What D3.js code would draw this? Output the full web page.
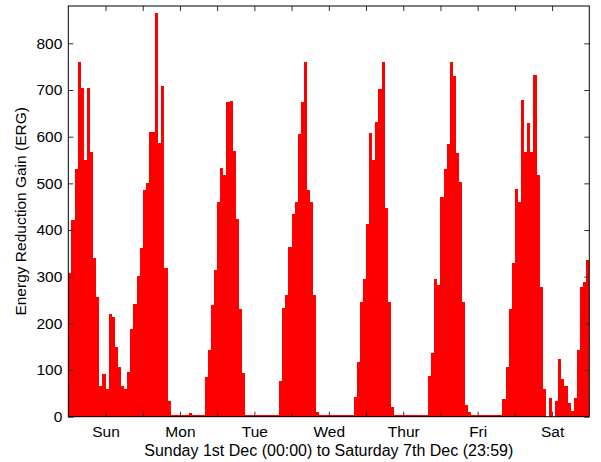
<!DOCTYPE html>
<html>
<head>
<meta charset="utf-8">
<script src="https://cdn.jsdelivr.net/npm/d3@7"></script>
<style>
  body { margin: 0; background: #fff; }
  text { font-family: "Liberation Sans", Arial, Helvetica, sans-serif; }
</style>
</head>
<body>
<div id="chart"></div>
<script>
// hourly ERG values, one array per day (00:00 .. 23:00)
const sun = [307, 421, 531, 761, 705, 549, 705, 568, 339, 256, 65, 91, 59, 219, 214, 150, 106, 65, 59, 96, 188, 241, 301, 361];
const mon = [486, 500, 609, 609, 864, 587, 708, 318, 34, 3, 3, 3, 3, 3, 3, 7, 3, 3, 3, 4, 84, 143, 239, 314];
const tue = [459, 532, 518, 674, 676, 569, 424, 231, 93, 3, 3, 3, 3, 3, 3, 3, 3, 3, 3, 3, 76, 232, 261, 363];
const wed = [434, 459, 606, 675, 759, 486, 459, 261, 9, 3, 3, 3, 3, 3, 3, 3, 3, 3, 3, 3, 43, 118, 245, 294];
const thu = [413, 607, 549, 631, 702, 759, 448, 246, 21, 3, 3, 3, 3, 3, 3, 3, 3, 3, 3, 3, 88, 136, 294, 282];
const fri = [471, 531, 584, 761, 731, 566, 502, 245, 24, 9, 3, 3, 3, 3, 3, 3, 3, 3, 3, 3, 38, 106, 230, 330];
const sat = [487, 461, 679, 568, 630, 568, 732, 518, 277, 59, 0, 41, 0, 34, 124, 80, 66, 30, 13, 41, 143, 277, 289, 336];

const dayLabels = ["Sun", "Mon", "Tue", "Wed", "Thur", "Fri", "Sat"];
const yTicks = [0, 100, 200, 300, 400, 500, 600, 700, 800];

const values = [].concat(sun, mon, tue, wed, thu, fri, sat);

const W = 601, H = 462;
const mLeft = 68.3, mRight = 589.3, mTop = 6, mBottom = 416.7;

const svg = d3.select("#chart").append("svg")
  .attr("width", W)
  .attr("height", H);

const x = d3.scaleLinear().domain([0, values.length]).range([mLeft, mRight]);
const y = d3.scaleLinear().domain([0, 880]).range([mBottom, mTop]);

// bars, drawn edge to edge
svg.append("g")
  .attr("shape-rendering", "crispEdges")
  .selectAll("rect")
  .data(values)
  .enter()
  .append("rect")
  .attr("x", (d, i) => x(i))
  .attr("width", (d, i) => x(i + 1) - x(i))
  .attr("y", d => y(d))
  .attr("height", d => y(0) - y(d))
  .attr("fill", "#ff0000");

const hourTicks = d3.range(12, 168, 12);

svg.append("g")
  .attr("transform", "translate(0," + mBottom + ")")
  .call(d3.axisBottom(x)
    .tickValues(hourTicks)
    .tickSizeInner(-5)
    .tickSizeOuter(0)
    .tickPadding(9)
    .tickFormat(d => d % 24 === 12 ? dayLabels[(d - 12) / 24] : ""));

svg.append("g")
  .attr("transform", "translate(0," + mTop + ")")
  .call(d3.axisTop(x).tickValues(hourTicks).tickSizeInner(-5).tickSizeOuter(0).tickFormat(""));

svg.append("g")
  .attr("transform", "translate(" + mLeft + ",0)")
  .call(d3.axisLeft(y)
    .tickValues(yTicks)
    .tickSizeInner(-5)
    .tickSizeOuter(0)
    .tickPadding(6));

svg.append("g")
  .attr("transform", "translate(" + mRight + ",0)")
  .call(d3.axisRight(y).tickValues(yTicks).tickSizeInner(-5).tickSizeOuter(0).tickFormat(""));

svg.selectAll(".domain").remove();
svg.selectAll(".tick line").attr("stroke", "#333");
svg.selectAll(".tick text")
  .attr("fill", "#000")
  .style("font-size", "15.5px");

// box
svg.append("rect")
  .attr("x", mLeft)
  .attr("y", mTop)
  .attr("width", mRight - mLeft)
  .attr("height", mBottom - mTop)
  .attr("fill", "none")
  .attr("stroke", "#000")
  .attr("stroke-width", 1);

svg.append("text")
  .attr("x", (mLeft + mRight) / 2)
  .attr("y", 456)
  .attr("text-anchor", "middle")
  .style("font-size", "16px")
  .text("Sunday 1st Dec (00:00) to Saturday 7th Dec (23:59)");

svg.append("text")
  .attr("transform", "translate(25.5," + (mTop + mBottom) / 2 + ") rotate(-90)")
  .attr("text-anchor", "middle")
  .style("font-size", "15.5px")
  .text("Energy Reduction Gain (ERG)");
</script>
</body>
</html>
